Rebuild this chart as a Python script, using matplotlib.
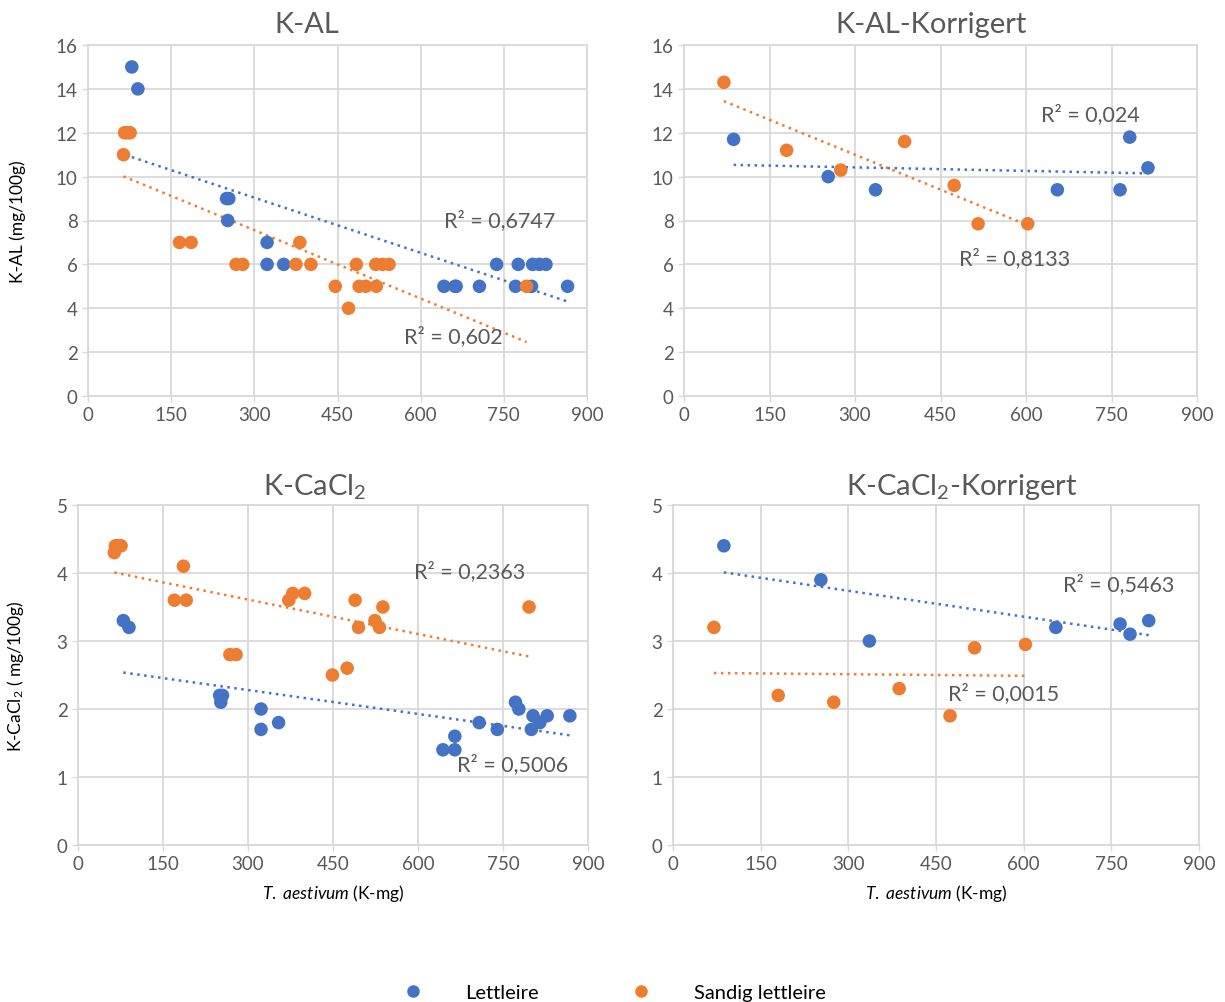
import numpy as np
import matplotlib.pyplot as plt
from matplotlib.lines import Line2D

plt.rcParams['font.family'] = ['Lato', 'DejaVu Sans']
plt.rcParams['mathtext.fontset'] = 'custom'
plt.rcParams['mathtext.rm'] = 'Lato'
plt.rcParams['mathtext.it'] = 'Lato:italic'

blue = '#4472C4'
orange = '#ED7D31'
grey = '#595959'
gridGrey = '#D9D9D9'

# K-AL
kal_blue_x = [79, 90, 250, 254, 252, 323, 323, 353, 642, 662, 664, 706, 737, 771, 776, 800, 802, 814, 826, 865]
kal_blue_y = [15, 14, 9, 9, 8, 7, 6, 6, 5, 5, 5, 5, 6, 5, 6, 5, 6, 6, 6, 5]
kal_orange_x = [64, 66, 71, 76, 165, 186, 267, 279, 375, 382, 402, 446, 470, 484, 489, 501, 519, 520, 531, 543, 791]
kal_orange_y = [11, 12, 12, 12, 7, 7, 6, 6, 6, 7, 6, 5, 4, 6, 5, 5, 6, 5, 6, 6, 5]

# K-CaCl2
cacl_blue_x = [80, 90, 250, 255, 252, 323, 323, 354, 644, 665, 665, 708, 740, 772, 778, 800, 803, 815, 828, 868]
cacl_blue_y = [3.3, 3.2, 2.2, 2.2, 2.1, 2.0, 1.7, 1.8, 1.4, 1.6, 1.4, 1.8, 1.7, 2.1, 2.0, 1.7, 1.9, 1.8, 1.9, 1.9]
cacl_orange_x = [64, 66, 71, 76, 170, 186, 191, 268, 279, 372, 379, 400, 449, 475, 489, 495, 524, 532, 538, 796]
cacl_orange_y = [4.3, 4.4, 4.4, 4.4, 3.6, 4.1, 3.6, 2.8, 2.8, 3.6, 3.7, 3.7, 2.5, 2.6, 3.6, 3.2, 3.3, 3.2, 3.5, 3.5]

# Korrigert (same samples in both panels)
korr_blue_x = [87, 253, 336, 655, 765, 782, 814]
korr_orange_x = [70, 180, 275, 387, 474, 516, 603]
kal_korr_blue_y = [11.7, 10.0, 9.4, 9.4, 9.4, 11.8, 10.4]
kal_korr_orange_y = [14.3, 11.2, 10.3, 11.6, 9.6, 7.85, 7.85]
cacl_korr_blue_y = [4.4, 3.9, 3.0, 3.2, 3.25, 3.1, 3.3]
cacl_korr_orange_y = [3.2, 2.2, 2.1, 2.3, 1.9, 2.9, 2.95]

xTicks = [0, 150, 300, 450, 600, 750, 900]
titles = ['K-AL', 'K-AL-Korrigert', r'K-CaCl$\mathregular{_2}$', r'K-CaCl$\mathregular{_2}$-Korrigert']
titlePos = [(307, 25), (931, 25), (315, 487), (962, 487)]
r2Texts = [('R² = 0,6747', 'R² = 0,602'), ('R² = 0,024', 'R² = 0,8133'),
           ('R² = 0,5006', 'R² = 0,2363'), ('R² = 0,5463', 'R² = 0,0015')]
r2Pos = [((742, 8.05), (659, 2.74)), ((713, 12.86), (580, 6.31)),
         ((766, 1.19), (691, 4.03)), ((762, 3.85), (565, 2.24))]

panels = [
    (kal_blue_x, kal_blue_y, kal_orange_x, kal_orange_y, 16, 2),
    (korr_blue_x, kal_korr_blue_y, korr_orange_x, kal_korr_orange_y, 16, 2),
    (cacl_blue_x, cacl_blue_y, cacl_orange_x, cacl_orange_y, 5, 1),
    (korr_blue_x, cacl_korr_blue_y, korr_orange_x, cacl_korr_orange_y, 5, 1),
]

W, H = 1225, 1003
# left, right, top, bottom in pixels
boxes = [(88, 587, 46, 397), (684, 1197, 46, 397), (78, 588, 506, 846), (673, 1199, 506, 846)]

fig = plt.figure(figsize=(W / 100, H / 100), dpi=100)
axes = []
for i, (bx, by, ox, oy, ymax, ystep) in enumerate(panels):
    l, r, t, b = boxes[i]
    ax = fig.add_axes([l / W, 1 - b / H, (r - l) / W, (b - t) / H])
    axes.append(ax)
    ax.set_xlim(0, 900)
    ax.set_ylim(0, ymax)
    ax.set_xticks(xTicks)
    ax.set_yticks(np.arange(0, ymax + 0.1, ystep))
    ax.grid(True, color=gridGrey, linewidth=1.3, zorder=0)
    for s in ax.spines.values():
        s.set_color(gridGrey)
        s.set_linewidth(1.3)
    ax.tick_params(colors=grey, labelsize=13.5, length=4, width=1.0, color=gridGrey)

    for xs, ys, c in ((bx, by, blue), (ox, oy, orange)):
        ax.scatter(xs, ys, s=95, color=c, edgecolors='none', zorder=3, clip_on=False)
        k, m = np.polyfit(xs, ys, 1)
        xl = np.array([min(xs), max(xs)])
        ax.plot(xl, k * xl + m, color=c, linewidth=1.8, linestyle=(0, (1.0, 1.8)), zorder=2)

    for txt, pos in zip(r2Texts[i], r2Pos[i]):
        ax.text(pos[0], pos[1], txt, color=grey, fontsize=15.5, ha='center', va='center', zorder=4)
    fig.text(titlePos[i][0] / W, 1 - titlePos[i][1] / H, titles[i], color=grey, fontsize=21,
             ha='center', va='center')

axes[0].set_ylabel('K-AL (mg/100g)', fontsize=12.5, color='black')
axes[0].yaxis.set_label_coords(-0.124, 0.5)
axes[2].set_ylabel(r'K-CaCl$\mathregular{_2}$ ( mg/100g)', fontsize=12.5, color='black')
axes[2].yaxis.set_label_coords(-0.102, 0.5)
for ax in axes[2:]:
    ax.set_xlabel(r'$\mathit{T.}$ $\mathit{aestivum}$ (K-mg)', fontsize=12.5, color='black')
    ax.xaxis.set_label_coords(0.5, -0.11)

handles = [Line2D([], [], marker='o', linestyle='', color=blue, markersize=8, label='Lettleire'),
           Line2D([], [], marker='o', linestyle='', color=orange, markersize=8, label='Sandig lettleire')]
fig.legend(handles=handles, loc='center', bbox_to_anchor=(614 / W, 1 - 993 / H), ncol=2, frameon=False,
           fontsize=14.5, handlelength=1, handletextpad=2.1, columnspacing=4.6)

fig.savefig('out.png', dpi=100)
